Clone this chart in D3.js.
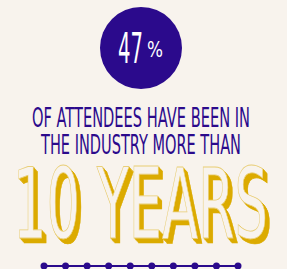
<!DOCTYPE html>
<html>
<head>
<meta charset="utf-8">
<script src="https://cdn.jsdelivr.net/npm/d3@7"></script>
<style>
body { margin:0; background:#f8f3ed; }
text { font-family: "Liberation Sans Narrow", "DejaVu Sans Condensed", sans-serif; }
</style>
</head>
<body>
<div id="chart"></div>
<script>
var percent = 47;
var lines = ["OF ATTENDEES HAVE BEEN IN", "THE INDUSTRY MORE THAN"];
var bigLabel = "10 YEARS";
var years = [1, 2, 3, 4, 5, 6, 7, 8, 9, 10];

var w = 287, h = 269;
var purple = "#2b0a8c";
var gold = "#dcab00";
var cream = "#f8f3ed";

var vis = d3.select("#chart").append("svg")
    .attr("width", w).attr("height", h);

vis.append("rect").attr("width", w).attr("height", h).attr("fill", cream);

// circle with percent
vis.append("circle")
    .attr("cx", 141).attr("cy", 48).attr("r", 41)
    .attr("fill", purple);

vis.append("text")
    .attr("x", 118).attr("y", 63)
    .attr("font-size", 42)
    .attr("fill", "#fff")
    .attr("textLength", 25).attr("lengthAdjust", "spacingAndGlyphs")
    .text(percent);
vis.append("text")
    .attr("x", 147).attr("y", 57)
    .attr("font-size", 22)
    .attr("fill", "#fff")
    .attr("textLength", 16).attr("lengthAdjust", "spacingAndGlyphs")
    .text("%");

// caption lines
var lineX = [[32, 250], [41, 241]];
vis.selectAll("text.cap")
    .data(lines)
    .enter().append("text")
    .attr("class", "cap")
    .attr("x", function(d, i) { return lineX[i][0]; })
    .attr("y", function(d, i) { return 127 + i * 27; })
    .attr("font-size", 26)
    .attr("fill", purple)
    .attr("textLength", function(d, i) { return lineX[i][1] - lineX[i][0]; })
    .attr("lengthAdjust", "spacingAndGlyphs")
    .text(function(d) { return d; });

// big 3d label
var depth = [5, 4, 3, 2, 1];
vis.selectAll("text.shadow")
    .data(depth)
    .enter().append("text")
    .attr("class", "shadow")
    .attr("x", function(d) { return 13 + d * 0.9; })
    .attr("y", function(d) { return 238 + d; })
    .attr("font-size", 98)
    .attr("fill", gold)
    .attr("stroke", gold).attr("stroke-width", 0.6)
    .attr("textLength", 255)
    .attr("lengthAdjust", "spacingAndGlyphs")
    .text(bigLabel);

vis.append("text")
    .attr("x", 13).attr("y", 238)
    .attr("font-size", 98)
    .attr("fill", cream)
    .attr("stroke", "#e9cf7a").attr("stroke-width", 0.8)
    .attr("textLength", 255)
    .attr("lengthAdjust", "spacingAndGlyphs")
    .text(bigLabel);

// dot line
var x = d3.scalePoint().domain(years).range([44, 238]);
vis.append("line")
    .attr("x1", x(years[0])).attr("x2", x(years[years.length - 1]))
    .attr("y1", 266).attr("y2", 266)
    .attr("stroke", purple).attr("stroke-width", 2);
vis.selectAll("circle.dot")
    .data(years)
    .enter().append("circle")
    .attr("class", "dot")
    .attr("cx", function(d) { return x(d); })
    .attr("cy", 266).attr("r", 3.5)
    .attr("fill", purple);
</script>
</body>
</html>
